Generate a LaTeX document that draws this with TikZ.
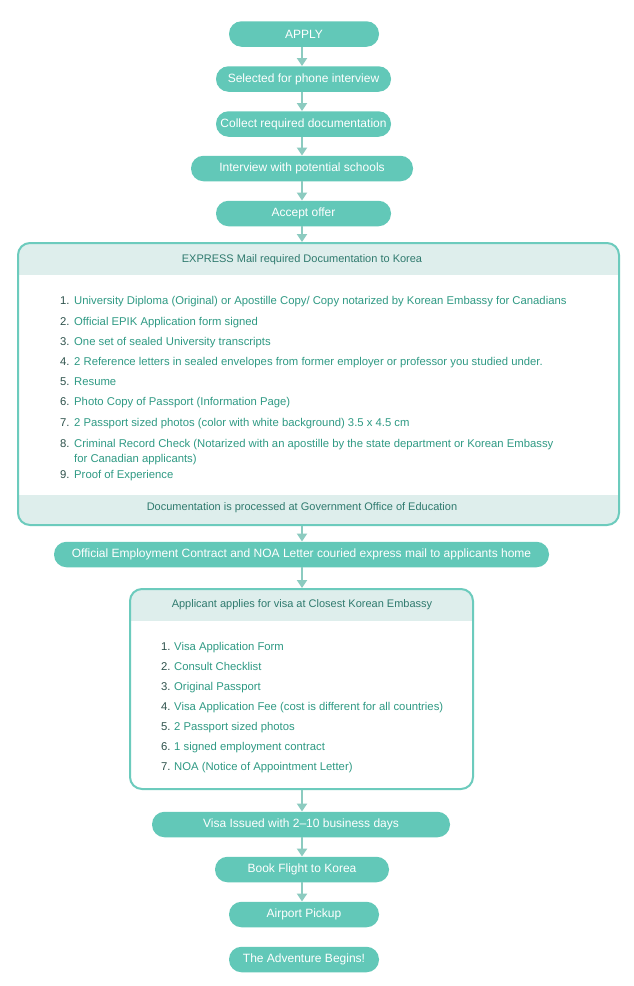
\documentclass[tikz,border=0pt]{standalone}
\usepackage{fontspec}
\setmainfont{Liberation Sans}
\usetikzlibrary{arrows.meta}
\definecolor{pillc}{HTML}{62C8B8}
\definecolor{arrowc}{HTML}{8CCBC0}
\definecolor{boxc}{HTML}{6CCBBD}
\definecolor{bandc}{HTML}{DEEEEC}
\definecolor{headc}{HTML}{2F7A6E}
\definecolor{numc}{HTML}{2E524C}
\definecolor{itemc}{HTML}{2F9A84}
\tikzset{
  pill/.style={draw=none, fill=pillc, rounded corners=12.5pt, minimum height=25.5pt,
    text=white, font=\fontsize{12}{14}\selectfont, inner sep=0pt},
  conn/.style={draw=arrowc, line width=2pt, -{Triangle[width=10pt,length=8pt]}},
  headtxt/.style={text=headc, font=\fontsize{11}{13}\selectfont, inner sep=0pt},
  item/.style={anchor=base west, text=itemc, font=\fontsize{11.3}{13}\selectfont, inner sep=0pt},
  num/.style={anchor=base west, text=numc, font=\fontsize{11.3}{13}\selectfont, inner sep=0pt},
  bandfill/.style={fill=bandc, sharp corners},
}
\begin{document}
\begin{tikzpicture}[x=1pt,y=-1pt]
\useasboundingbox (0,0) rectangle (633,986);
\fill[white] (0,0) rectangle (633,986);
% pills
\node[pill, minimum width=150pt] (apply) at (304,34) {APPLY};
\node[pill, minimum width=175pt] (sel) at (303.5,79) {Selected for phone interview};
\node[pill, minimum width=175pt] (col) at (303.5,124) {Collect required documentation};
\node[pill, minimum width=222pt] (intv) at (302,168.5) {Interview with potential schools};
\node[pill, minimum width=175pt] (acc) at (303.5,213.5) {Accept offer};
% big box
\node[draw=boxc, line width=2pt, fill=white, rounded corners=12pt, minimum width=601pt, minimum height=282pt, inner sep=0pt,
  path picture={
    \path[bandfill] (path picture bounding box.north west) rectangle ([yshift=-32pt]path picture bounding box.north east);
    \path[bandfill] (path picture bounding box.south west) rectangle ([yshift=30pt]path picture bounding box.south east);
  }] (box1) at (318.5,384) {};
\node[headtxt] (h1) at (302,260) {EXPRESS Mail required Documentation to Korea};
\node[headtxt] (f1) at (302,508) {Documentation is processed at Government Office of Education};
\foreach \n/\y/\t in {
  1/304/{University Diploma (Original) or Apostille Copy/ Copy notarized by Korean Embassy for Canadians},
  2/325/{Official EPIK Application form signed},
  3/345/{One set of sealed University transcripts},
  4/365/{2 Reference letters in sealed envelopes from former employer or professor you studied under.},
  5/385/{Resume},
  6/405/{Photo Copy of Passport (Information Page)},
  7/426/{2 Passport sized photos (color with white background) 3.5 x 4.5 cm},
  8/447/{Criminal Record Check (Notarized with an apostille by the state department or Korean Embassy},
  9/478/{Proof of Experience}} {
  \node[num] (n\n) at (60,\y) {\n.};
  \node[item] (t\n) at (74,\y) {\t};
}
\node[item] (t8b) at (74,462) {for Canadian applicants)};
% official pill
\node[pill, minimum width=495pt] (off) at (301.5,554.5) {Official Employment Contract and NOA Letter couried express mail to applicants home};
% visa box
\node[draw=boxc, line width=2pt, fill=white, rounded corners=12pt, minimum width=343pt, minimum height=200pt, inner sep=0pt,
  path picture={
    \path[bandfill] (path picture bounding box.north west) rectangle ([yshift=-32pt]path picture bounding box.north east);
  }] (box2) at (301.5,689) {};
\node[headtxt] (h2) at (302,605) {Applicant applies for visa at Closest Korean Embassy};
\foreach \n/\y/\t in {
  1/650/{Visa Application Form},
  2/670/{Consult Checklist},
  3/690/{Original Passport},
  4/710/{Visa Application Fee (cost is different for all countries)},
  5/730/{2 Passport sized photos},
  6/750/{1 signed employment contract},
  7/770/{NOA (Notice of Appointment Letter)}} {
  \node[num] (vn\n) at (161,\y) {\n.};
  \node[item] (vt\n) at (174,\y) {\t};
}
% lower pills
\node[pill, minimum width=298pt] (iss) at (301,824.5) {Visa Issued with 2--10 business days};
\node[pill, minimum width=174pt] (book) at (302,869.5) {Book Flight to Korea};
\node[pill, minimum width=150pt] (air) at (304,914.5) {Airport Pickup};
\node[pill, minimum width=150pt] (adv) at (304,959.5) {The Adventure Begins!};
% connectors
\draw[conn] (apply.south -| 302,0) -- (sel.north -| 302,0);
\draw[conn] (sel.south -| 302,0) -- (col.north -| 302,0);
\draw[conn] (col.south -| 302,0) -- (intv.north -| 302,0);
\draw[conn] (intv.south -| 302,0) -- (acc.north -| 302,0);
\draw[conn] (acc.south -| 302,0) -- (box1.north -| 302,0);
\draw[conn] (box1.south -| 302,0) -- (off.north -| 302,0);
\draw[conn] (off.south -| 302,0) -- (box2.north -| 302,0);
\draw[conn] (box2.south -| 302,0) -- (iss.north -| 302,0);
\draw[conn] (iss.south -| 302,0) -- (book.north -| 302,0);
\draw[conn] (book.south -| 302,0) -- (air.north -| 302,0);
\end{tikzpicture}
\end{document}
